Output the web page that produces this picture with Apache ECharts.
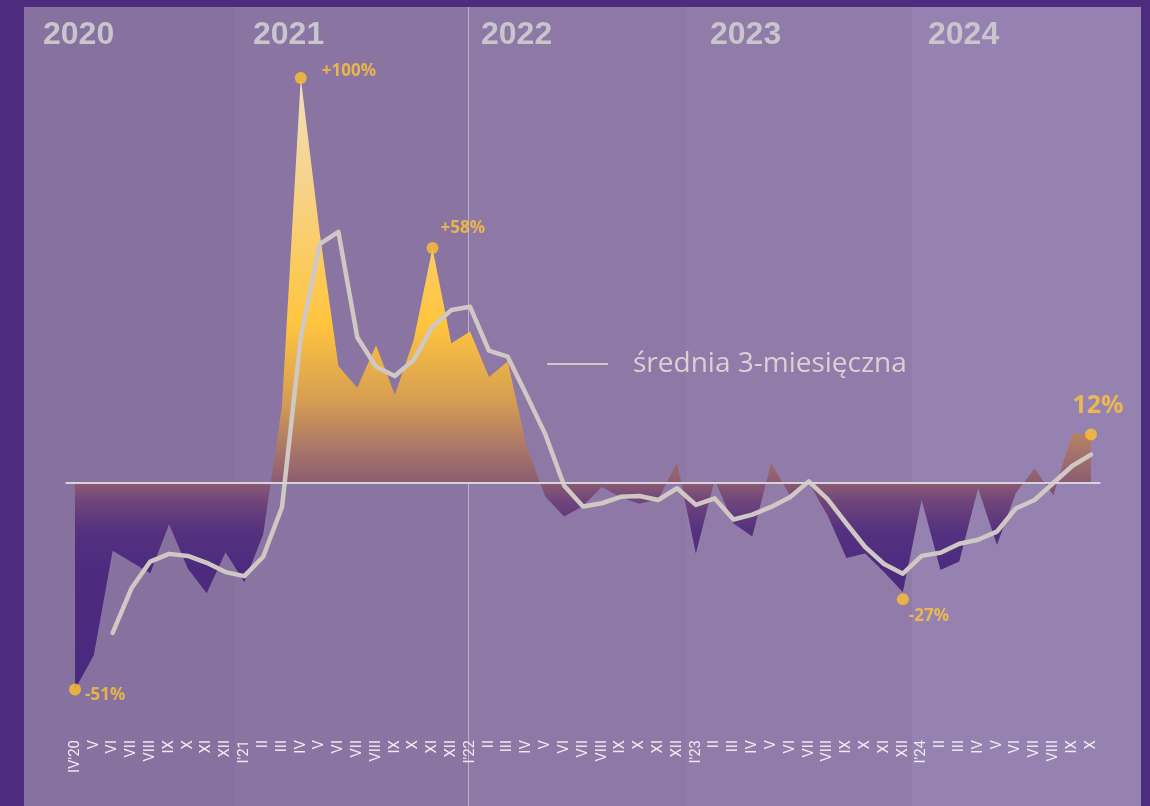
<!DOCTYPE html>
<html>
<head>
<meta charset="utf-8">
<script src="https://cdn.jsdelivr.net/npm/echarts@6/dist/echarts.min.js"></script>
<style>
html,body{margin:0;padding:0;background:#4d2b7e;}
#main{width:1150px;height:806px;}
</style>
</head>
<body>
<div id="main"></div>
<script>
// miesięczna zmiana r/r + średnia 3-miesięczna, IV 2020 – X 2024

var months = ["IV'20","V","VI","VII","VIII","IX","X","XI","XII",
  "I'21","II","III","IV","V","VI","VII","VIII","IX","X","XI","XII",
  "I'22","II","III","IV","V","VI","VII","VIII","IX","X","XI","XII",
  "I'23","II","III","IV","V","VI","VII","VIII","IX","X","XI","XII",
  "I'24","II","III","IV","V","VI","VII","VIII","IX","X"];

var change = [-51,-42.5,-16.7,-19.5,-22.3,-10.2,-21.2,-27.2,-17.1,
  -24.5,-12.7,19,100,62,28.9,23.5,34,21.8,35.3,58,34.5,
  37.4,26.2,30,9,-3.4,-8.3,-5.7,-1,-3.5,-5.1,-4,5,
  -17.4,0.8,-10,-13.2,4.9,-3,0,-8,-18.5,-17.4,-22,-27,
  -4.2,-21.5,-19.4,-1.3,-15.3,-2.5,3.6,-3,12.2,12];

var avg3 = [null,null,-37,-26,-19.4,-17.5,-18,-19.7,-22,
  -23,-18.2,-6,36,59,62,36,28.7,26.4,30.4,38.6,42.7,
  43.5,32.7,31.2,21.7,12,-0.7,-5.8,-5,-3.4,-3.2,-4.2,-1.3,
  -5.4,-3.8,-9,-7.8,-5.9,-3.5,0.4,-4,-10,-15.8,-20,-22.4,
  -18,-17.2,-15,-14,-12,-6.3,-4.2,0,4.2,7];

var peakIdx = [0,12,19,44,54];
var peakText = ['-51%','+100%','+58%','-27%','12%'];

var years = ['2020','2021','2022','2023','2024'];

// wygląd etykiet przy kropkach
var peakLabelStyle = [
  {position:'right', distance:4, offset:[0,6]},
  {position:'right', distance:15, offset:[0,-7]},
  {position:'right', distance:2, offset:[0,-20]},
  {position:'right', distance:0, offset:[0,17]},
  {position:'top', distance:10, offset:[7,0], fontSize:25}
];

var bandColors = ['#86719f','#8a74a2','#8d78a6','#917ca9','#9682b0'];
var yearX = [43,253,481,710,928];
var PANEL = {l:24, r:1141, t:7, b:806};

var chart = echarts.init(document.getElementById('main'));

var areaGrad = new echarts.graphic.LinearGradient(0,0,0,1,[
  {offset:0,    color:'#f1dfbd'},
  {offset:0.17, color:'#f6d38b'},
  {offset:0.40, color:'#ffc53e'},
  {offset:0.53, color:'#d59d52'},
  {offset:0.61, color:'#a7746a'},
  {offset:0.662,color:'#8b5c71'},
  {offset:0.69, color:'#71467b'},
  {offset:0.74, color:'#55317f'},
  {offset:0.80, color:'#4c2b7f'},
  {offset:1,    color:'#4a2a7e'}
]);

var option = {
  backgroundColor:'#4d2b7e',
  animation:false,
  grid:{left:65.6, right:49.6, top:37.5, bottom:80},
  legend:{
    data:[{name:'średnia 3-miesięczna', icon:'rect'}],
    left:542, top:345, itemWidth:61, itemHeight:2, selectedMode:false,
    textStyle:{color:'#d9d1d5', fontSize:28, fontFamily:'Open Sans', padding:[0,0,0,20]}
  },
  xAxis:{
    type:'category', data:months, boundaryGap:true,
    axisLine:{show:false}, axisTick:{show:false}, splitLine:{show:false},
    axisLabel:{interval:0, rotate:90, margin:14, color:'#efeaf2', fontSize:15, fontFamily:'Roboto'}
  },
  yAxis:{type:'value', min:-60, max:110, show:false},
  series:[
    {
      name:'zmiana', type:'line', data:change, symbol:'none', z:2,
      lineStyle:{width:0}, areaStyle:{color:areaGrad, opacity:1},
      markLine:{silent:true, symbol:['none','none'], label:{show:false},
        lineStyle:{color:'#d8d2da', width:2, type:'solid'}, data:[{yAxis:0}]}
    },
    {
      name:'średnia 3-miesięczna', type:'line', data:avg3, symbol:'none', z:4,
      lineStyle:{color:'#cfc8c4', width:4.5, cap:'round', join:'round'},
      itemStyle:{color:'#cfc8c4'}
    },
    {
      name:'peaks', type:'scatter', z:5, symbolSize:12,
      itemStyle:{color:'#ffc12e'},
      data:peakIdx.map(function(i,k){
        var s = peakLabelStyle[k];
        return {
          value:[i, change[i]],
          symbolOffset: k===3 ? [0,7] : [0,0],
          label:{show:true, formatter:peakText[k], position:s.position, distance:s.distance, offset:s.offset,
            color:'#ffc43a', fontSize:s.fontSize||17, fontWeight:'bold', fontFamily:'Open Sans'}
        };
      })
    }
  ]
};
chart.setOption(option);

// tła lat + pionowa linia na I'22 — liczone z osi
function px(i){ return chart.convertToPixel({xAxisIndex:0}, i); }
var step = px(1)-px(0);
var edges = [PANEL.l, px(8)+step/2, px(21)-2, px(32)+step/2, px(44)+step/2, PANEL.r].map(Math.round);
var g = [];
years.forEach(function(y,i){
  g.push({type:'rect', z:-10, silent:true,
    shape:{x:edges[i], y:PANEL.t, width:edges[i+1]-edges[i]+(i<4?1:0), height:PANEL.b-PANEL.t},
    style:{fill:bandColors[i]}});
  g.push({type:'text', z:-5, silent:true, x:yearX[i], y:35,
    style:{text:y, fill:'#c9c5cd', font:'bold 32px "Liberation Sans", Arial', textVerticalAlign:'middle'}});
});
g.push({type:'line', z:-4, silent:true,
  shape:{x1:468.5, y1:PANEL.t, x2:468.5, y2:PANEL.b},
  style:{stroke:'rgba(225,220,230,0.55)', lineWidth:1}});
chart.setOption({graphic:g});
</script>
</body>
</html>
